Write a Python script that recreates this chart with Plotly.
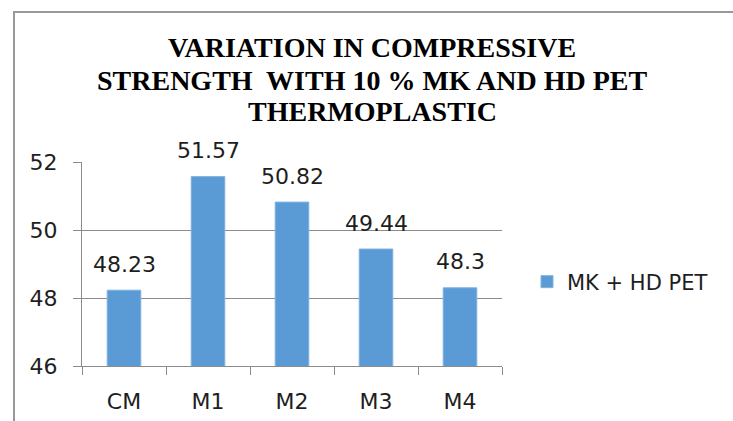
import plotly.graph_objects as go

categories = ["CM", "M1", "M2", "M3", "M4"]
values = [48.23, 51.57, 50.82, 49.44, 48.3]
value_labels = ["48.23", "51.57", "50.82", "49.44", "48.3"]
series_name = "MK + HD PET"
title_lines = [
    "VARIATION IN COMPRESSIVE",
    "STRENGTH&nbsp; WITH 10 % MK AND HD PET",
    "THERMOPLASTIC",
]
y_ticks = [46, 48, 50, 52]

W, H = 733, 421
L, R, T, B = 82, 502, 162, 366
pw, ph = R - L, B - T

def px_x(x):
    return (x - L) / pw

def px_y(y):
    return (B - y) / ph

BAR = "#5B9BD5"
GRID = "#8c8c8c"
TXT = "#1e1e1e"
SANS = "DejaVu Sans"
FS = 22

fig = go.Figure()
fig.add_trace(go.Bar(
    x=categories, y=values, name=series_name,
    marker=dict(color=BAR, line=dict(color="#7fb2e0", width=1)),
    width=0.4, showlegend=True,
))

ann = []
for c, v, t in zip(categories, values, value_labels):
    ann.append(dict(x=c, y=v, text=t, showarrow=False, yanchor="middle",
                    yshift=26, font=dict(family=SANS, size=FS, color=TXT)))

title_y = [47, 80, 111]
for line, yy in zip(title_lines, title_y):
    ann.append(dict(xref="paper", yref="paper", x=px_x(372), y=px_y(yy),
                    xanchor="center", yanchor="middle", text="<b>" + line + "</b>",
                    showarrow=False,
                    font=dict(family="Liberation Serif", size=28, color="black")))

fig.update_layout(
    width=W, height=H,
    margin=dict(l=L, r=W - R, t=T, b=H - B, pad=0, autoexpand=False),
    paper_bgcolor="white", plot_bgcolor="white",
    annotations=ann,
    showlegend=True,
    legend=dict(x=px_x(527), y=px_y(282), xanchor="left", yanchor="middle",
                font=dict(family=SANS, size=FS - 1, color=TXT),
                bgcolor="rgba(0,0,0,0)"),
    shapes=[dict(type="rect", xref="paper", yref="paper",
                 x0=px_x(14), x1=px_x(900), y0=px_y(600), y1=px_y(12),
                 line=dict(color="#999999", width=2), layer="below")],
    bargap=0.6,
)
fig.update_xaxes(
    type="category", showline=True, linecolor=GRID, linewidth=1,
    ticks="outside", tickson="boundaries", ticklen=8, tickcolor=GRID,
    tickfont=dict(family=SANS, size=FS, color=TXT),
    ticklabelstandoff=16, showgrid=False, fixedrange=True, automargin=False,
)
fig.update_yaxes(
    range=[46, 52], tickvals=y_ticks, showline=True, linecolor=GRID,
    linewidth=1, ticks="outside", ticklen=8, tickcolor=GRID,
    showgrid=True, gridcolor=GRID, gridwidth=1, zeroline=False,
    tickfont=dict(family=SANS, size=FS, color=TXT),
    ticklabelstandoff=11, fixedrange=True, automargin=False,
)

fig.write_html("out.html")
